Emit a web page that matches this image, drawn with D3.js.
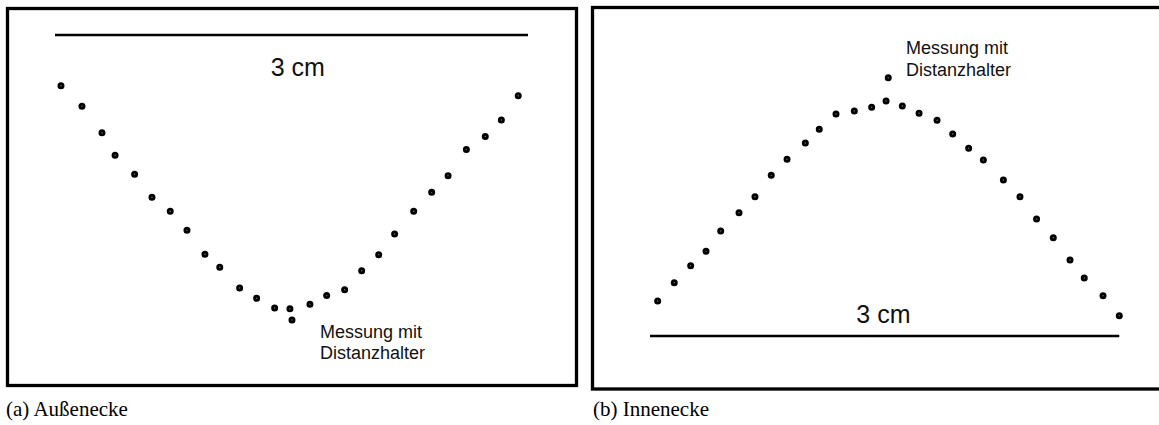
<!DOCTYPE html>
<html>
<head>
<meta charset="utf-8">
<script src="https://cdn.jsdelivr.net/npm/d3@7"></script>
<style>
  body { margin: 0; background: #fff; }
  svg { display: block; }
</style>
</head>
<body>
<svg id="chart" width="1159" height="425"></svg>
<script>
// measured profile, mm along the 3 cm bar / mm distance from the bar
var outerX = [0.38, 1.71, 2.98, 3.81, 5.05, 6.15, 7.31, 8.37, 9.51, 10.45, 11.71, 12.79, 13.93, 14.90,
              16.17, 17.23, 18.37, 19.45, 20.53, 21.54, 22.75, 23.89, 24.93, 26.09, 27.29, 28.31, 29.38];
var outerY = [3.22, 4.52, 6.20, 7.63, 8.83, 10.29, 11.18, 12.39, 13.91, 14.73, 16.05, 16.70, 17.31, 17.36,
              17.08, 16.53, 16.15, 14.95, 13.93, 12.62, 11.18, 9.98, 8.92, 7.27, 6.43, 5.39, 3.85];
var outerSpacerX = [15.03];
var outerSpacerY = [18.08];

var innerX = [0.49, 1.55, 2.60, 3.58, 4.52, 5.69, 6.71, 7.75, 8.76, 9.93, 10.82, 11.89, 13.06, 14.17, 15.09,
              16.13, 17.20, 18.35, 19.35, 20.37, 21.31, 22.59, 23.65, 24.71, 25.78, 26.85, 27.76, 28.96, 30.00];
var innerY = [2.24, 3.41, 4.49, 5.41, 6.71, 7.88, 8.90, 10.27, 11.30, 12.34, 13.21, 14.19, 14.38, 14.63, 15.02,
              14.70, 14.24, 13.79, 12.91, 12.00, 11.25, 9.97, 8.90, 7.48, 6.28, 4.86, 3.71, 2.58, 1.30];
var innerSpacerX = [15.23];
var innerSpacerY = [16.51];

var barLength = [0, 30];
var barLabel = "3 cm";
var spacerLabel = ["Messung mit", "Distanzhalter"];
var captions = ["(a) Außenecke", "(b) Innenecke"];

var svg = d3.select("#chart");
var sans = "'Liberation Sans', Arial, sans-serif";
var serif = "'Liberation Serif', 'Times New Roman', serif";

function dots(g, xs, ys, x, y) {
  g.selectAll(null)
    .data(d3.zip(xs, ys))
    .join("circle")
    .attr("cx", function(d) { return x(d[0]); })
    .attr("cy", function(d) { return y(d[1]); })
    .attr("r", 2.1)
    .attr("fill", "#777")
    .attr("stroke", "#000")
    .attr("stroke-width", 2.8);
}

// ---- (a) Außenecke
var xa = d3.scaleLinear().domain(barLength).range([55, 528]);
var ya = d3.scaleLinear().domain([0, 30]).range([35, 35 + 473]);
var ga = svg.append("g");

ga.append("rect")
  .attr("x", 7.5).attr("y", 8.5).attr("width", 569).attr("height", 377)
  .attr("fill", "none").attr("stroke", "#000").attr("stroke-width", 3.3);

ga.append("line")
  .attr("x1", xa(barLength[0])).attr("x2", xa(barLength[1]))
  .attr("y1", ya(0)).attr("y2", ya(0))
  .attr("stroke", "#000").attr("stroke-width", 2.6);

ga.append("text")
  .attr("x", xa(15.4)).attr("y", 76)
  .attr("text-anchor", "middle")
  .style("font-family", sans).style("font-size", "25px").attr("fill", "#111")
  .text(barLabel);

dots(ga, outerX, outerY, xa, ya);
dots(ga, outerSpacerX, outerSpacerY, xa, ya);

ga.append("text")
  .attr("x", 320).attr("y", 338)
  .style("font-family", sans).style("font-size", "18px").attr("fill", "#111")
  .selectAll("tspan").data(spacerLabel).join("tspan")
  .attr("x", 320).attr("dy", function(d, i) { return i ? 21 : 0; })
  .text(function(d) { return d; });

// ---- (b) Innenecke
var xb = d3.scaleLinear().domain(barLength).range([650, 1119.3]);
var yb = d3.scaleLinear().domain([0, 30]).range([336, 336 - 469.3]);
var gb = svg.append("g");

gb.append("rect")
  .attr("x", 592.5).attr("y", 7.5).attr("width", 580).attr("height", 381.5)
  .attr("fill", "none").attr("stroke", "#000").attr("stroke-width", 3.3);

gb.append("line")
  .attr("x1", xb(barLength[0])).attr("x2", xb(barLength[1]))
  .attr("y1", yb(0)).attr("y2", yb(0))
  .attr("stroke", "#000").attr("stroke-width", 2.6);

gb.append("text")
  .attr("x", 883.4).attr("y", 323)
  .attr("text-anchor", "middle")
  .style("font-family", sans).style("font-size", "25px").attr("fill", "#111")
  .text(barLabel);

dots(gb, innerX, innerY, xb, yb);
dots(gb, innerSpacerX, innerSpacerY, xb, yb);

gb.append("text")
  .attr("x", 906).attr("y", 53.5)
  .style("font-family", sans).style("font-size", "18px").attr("fill", "#111")
  .selectAll("tspan").data(spacerLabel).join("tspan")
  .attr("x", 906).attr("dy", function(d, i) { return i ? 22 : 0; })
  .text(function(d) { return d; });

// captions
svg.selectAll("text.caption")
  .data(captions)
  .join("text")
  .attr("class", "caption")
  .attr("x", function(d, i) { return i ? 593 : 6; })
  .attr("y", 416)
  .style("font-family", serif).style("font-size", "21px").attr("fill", "#000")
  .text(function(d) { return d; });
</script>
</body>
</html>
